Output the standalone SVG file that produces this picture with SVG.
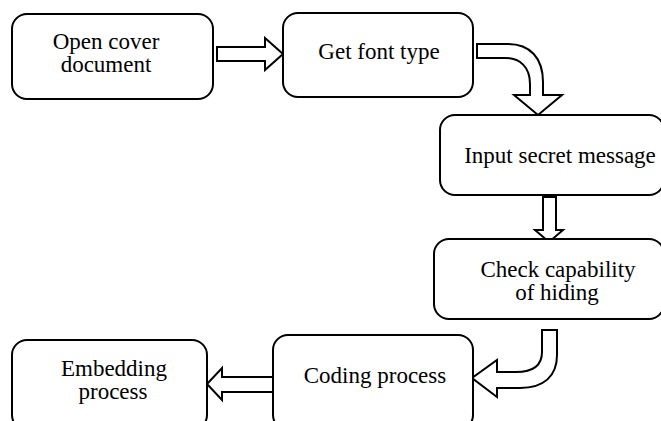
<svg xmlns="http://www.w3.org/2000/svg" width="661" height="421" viewBox="0 0 661 421">
<rect width="661" height="421" fill="#fff"/>
<g id="connectors" fill="#fff" stroke="#000" stroke-width="2">
<polygon points="217,47 265,47 265,38 283,54 265,70 265,61 217,61"/>
<path d="M477,44 L508,44 C530,44 543,58 543,82 L543,95 L562,95 L538,115 L514,95 L530,95 L530,84 C530,67 520,58 505,58 L477,58 Z"/>
<polygon points="543,197 556,197 556,230 563,230 549,242 535,230 543,230"/>
<path d="M542,330 L557,330 L557,355 C557,376 544,388 520,388 L497,388 L497,397 L472,378 L497,360 L497,372 L516,372 C533,372 542,366 542,352 Z"/>
<polygon points="273,377 222,377 222,368 207,384 222,400 222,392 273,392"/>
</g>
<g id="nodes" font-family="Liberation Serif" font-size="23" text-anchor="middle">
<g id="n1"><rect x="12" y="14" width="201" height="85" rx="15" fill="#fff" stroke="#000" stroke-width="2"/><text x="106" y="49" font-family="Liberation Serif">Open cover</text><text x="106" y="72" font-family="Liberation Serif">document</text></g>
<g id="n2"><rect x="283" y="13" width="190" height="84" rx="15" fill="#fff" stroke="#000" stroke-width="2"/><text x="379" y="59" font-family="Liberation Serif">Get font type</text></g>
<g id="n3"><rect x="440" y="115" width="224" height="80" rx="15" fill="#fff" stroke="#000" stroke-width="2"/><text x="560" y="163" font-family="Liberation Serif">Input secret message</text></g>
<g id="n4"><rect x="434" y="239" width="230" height="80" rx="15" fill="#fff" stroke="#000" stroke-width="2"/><text x="558" y="277" font-family="Liberation Serif">Check capability</text><text x="557" y="300" font-family="Liberation Serif">of hiding</text></g>
<g id="n5"><rect x="273" y="335" width="200" height="95" rx="15" fill="#fff" stroke="#000" stroke-width="2"/><text x="375" y="383" font-family="Liberation Serif">Coding process</text></g>
<g id="n6"><rect x="12" y="340" width="195" height="90" rx="15" fill="#fff" stroke="#000" stroke-width="2"/><text x="114" y="376" font-family="Liberation Serif">Embedding</text><text x="113" y="399" font-family="Liberation Serif">process</text></g>
</g>
</svg>
